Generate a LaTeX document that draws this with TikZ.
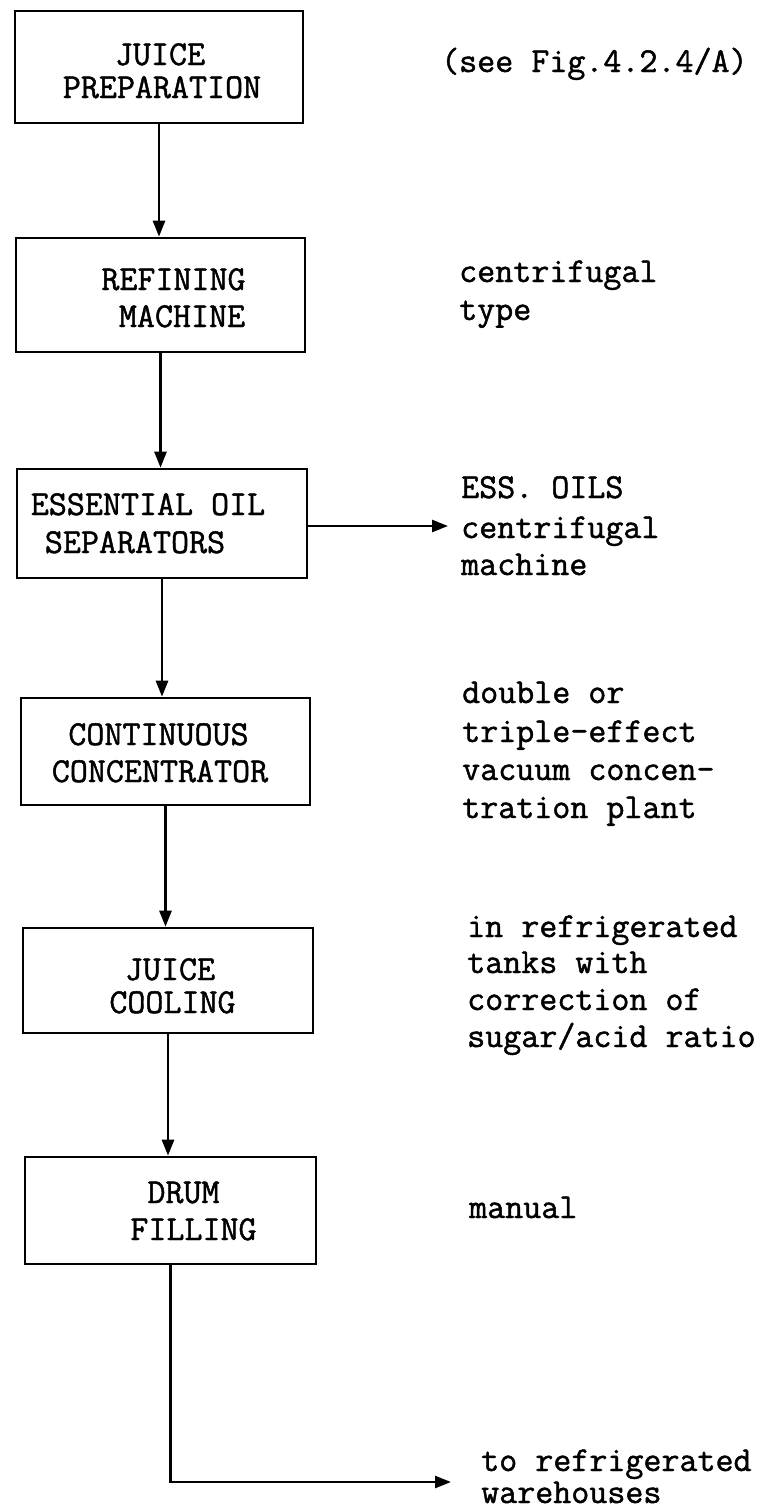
\documentclass[tikz,border=0pt]{standalone}
\usepackage{fontspec}
\newfontfamily\typefont[FakeBold=1.3]{Latin Modern Mono}
\usetikzlibrary{arrows.meta}
\begin{document}
\begin{tikzpicture}[x=1pt,y=-1pt,
  box/.style={draw, line width=2.6pt, inner sep=0pt},
  btxt/.style={font=\fontsize{35}{37}\selectfont\typefont, inner sep=0pt, anchor=base, text depth=0pt},
  rtxt/.style={font=\fontsize{35}{37}\selectfont\typefont, inner sep=0pt, anchor=base west},
  arr/.style={line width=2.6pt, -{Triangle[length=16pt,width=12pt]}}]
\useasboundingbox[fill=white] (0,0) rectangle (778,1510);
% boxes
\node[box, minimum width=288pt, minimum height=112pt] (b1) at (159,67) {};
\node[box, minimum width=289pt, minimum height=114pt] (b2) at (160.5,295) {};
\node[box, minimum width=290pt, minimum height=109pt] (b3) at (162,523.5) {};
\node[box, minimum width=289pt, minimum height=107pt] (b4) at (165.5,751.5) {};
\node[box, minimum width=290pt, minimum height=105pt] (b5) at (168,980.5) {};
\node[box, minimum width=291pt, minimum height=107pt] (b6) at (170.5,1210.5) {};
% box texts
\node[btxt] (t1a) at (160,65) {JUICE};
\node[btxt] (t1b) at (162,98) {PREPARATION};
\node[btxt] (t2a) at (173.5,290) {REFINING};
\node[btxt] (t2b) at (182,327) {MACHINE};
\node[btxt] (t3a) at (148,515) {ESSENTIAL OIL};
\node[btxt] (t3b) at (135,553) {SEPARATORS};
\node[btxt] (t4a) at (158.5,745) {CONTINUOUS};
\node[btxt] (t4b) at (160,782) {CONCENTRATOR};
\node[btxt] (t5a) at (170,980) {JUICE};
\node[btxt] (t5b) at (172.5,1013) {COOLING};
\node[btxt] (t6a) at (183.5,1203) {DRUM};
\node[btxt] (t6b) at (193.5,1240) {FILLING};
% right texts
\node[rtxt] (r1) at (441,72) {(see Fig.4.2.4/A)};
\node[rtxt] (r2a) at (459,282) {centrifugal};
\node[rtxt] (r2b) at (459,320) {type};
\node[rtxt] (r3a) at (461,498) {ESS. OILS};
\node[rtxt] (r3b) at (461,538) {centrifugal};
\node[rtxt] (r3c) at (461,575) {machine};
\node[rtxt] (r4a) at (462,703) {double or};
\node[rtxt] (r4b) at (462,742) {triple-effect};
\node[rtxt] (r4c) at (462,780) {vacuum concen-};
\node[rtxt] (r4d) at (462,818) {tration plant};
\node[rtxt] (r5a) at (467,937) {in refrigerated};
\node[rtxt] (r5b) at (467,973) {tanks with};
\node[rtxt] (r5c) at (467,1010) {correction of};
\node[rtxt] (r5d) at (467,1047) {sugar/acid ratio};
\node[rtxt] (r6) at (469,1218) {manual};
\node[rtxt, text depth=0pt] (r7a) at (481,1471) {to refrigerated};
\node[rtxt] (r7b) at (481,1503) {warehouses};
% connector ends
\coordinate (oilend) at (448,526);
\coordinate (outend) at (451,1482);
% connectors
\draw[arr] (b1.south) -- (b1.south |- b2.north);
\draw[arr] (b2.south) -- (b2.south |- b3.north);
\draw[arr] (b3.south) -- (b3.south |- b4.north);
\draw[arr] (b4.south) -- (b4.south |- b5.north);
\draw[arr] (b5.south) -- (b5.south |- b6.north);
\draw[arr] (b3.east |- oilend) -- (oilend);
\draw[arr] (b6.south) |- (outend);
\end{tikzpicture}
\end{document}
